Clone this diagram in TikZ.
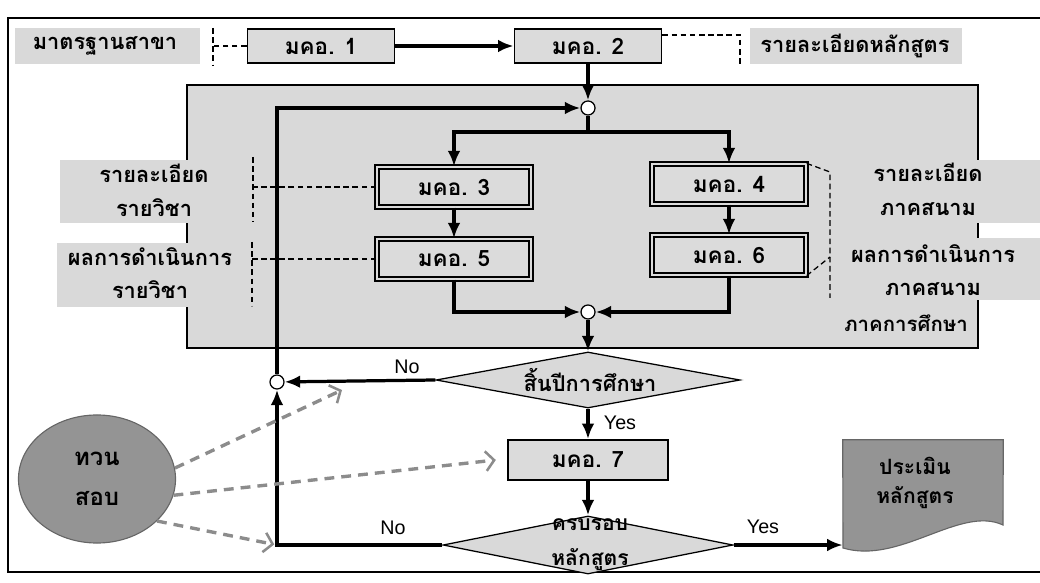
\documentclass[tikz,border=0pt]{standalone}
\usepackage{fontspec}
\setmainfont{Liberation Sans}
\newfontfamily\thai[Script=Thai]{Loma}
\usetikzlibrary{shapes.geometric,arrows.meta}
\definecolor{regfill}{gray}{0.85}
\definecolor{boxfill}{gray}{0.86}
\definecolor{darkfill}{gray}{0.58}
\begin{document}
\begin{tikzpicture}[x=0.025cm,y=-0.025cm,
  flow/.style={line width=2.3pt,-{Latex[length=11pt,width=9pt]}},
  plain/.style={line width=2.3pt},
  brk/.style={line width=0.9pt,dash pattern=on 4pt off 2.5pt},
  tvarrow/.style={black!45,line width=2.4pt,dash pattern=on 7pt off 5pt,
    -{Straight Barb[length=6pt,width=14pt,line width=1.8pt]}},
  mbox/.style={draw,line width=1.3pt,fill=boxfill,minimum width=3.675cm,minimum height=0.85cm,
    inner sep=0pt,font=\thai\bfseries\fontsize{16}{18}\selectfont},
  mboxd/.style={draw,line width=0.9pt,double=boxfill,double distance=2pt,fill=boxfill,
    minimum width=3.85cm,minimum height=1.0cm,inner sep=0pt,font=\thai\bfseries\fontsize{16}{18}\selectfont},
  thlab/.style={inner sep=0pt,align=center,font=\thai\bfseries\fontsize{15.5}{24}\selectfont},
  junc/.style={circle,draw,line width=0.9pt,fill=white,minimum size=0.35cm,inner sep=0pt},
  dec/.style={diamond,draw,line width=0.9pt,fill=regfill,inner sep=0pt},
  yn/.style={inner sep=0pt,font=\fontsize{14}{16}\selectfont}
]
\useasboundingbox (0,0) rectangle (1040,583);
% outer frame
\draw[line width=1.3pt] (1040,18) -- (8,18) -- (8,572) -- (1040,572);
% inner region
\draw[line width=1.1pt,fill=regfill] (187,85) rectangle (978,348);
% label backgrounds
\fill[regfill] (15,28) rectangle (200,64);
\fill[regfill] (750,28) rectangle (962,64);
\fill[regfill] (60,160) rectangle (253,223);
\fill[regfill] (57,243) rectangle (250,307);
\fill[regfill] (847,160) rectangle (1040,223);
\fill[regfill] (853,238) rectangle (1040,300);
% labels
\node[thlab] (lstd) at (105,46) {มาตรฐานสาขา};
\node[thlab] (lcur) at (855,46) {รายละเอียดหลักสูตร};
\node[thlab] (lcd) at (154,190) {รายละเอียด\\รายวิชา};
\node[thlab] (lcr) at (150,273) {ผลการดำเนินการ\\รายวิชา};
\node[thlab] (lfd) at (928,189) {รายละเอียด\\ภาคสนาม};
\node[thlab] (lfr) at (933,270) {ผลการดำเนินการ\\ภาคสนาม};
\node[thlab,font=\thai\bfseries\fontsize{14.5}{20}\selectfont] (lsem) at (906,323) {ภาคการศึกษา};
% boxes
\node[mbox] (m1) at (321,46) {มคอ. 1};
\node[mbox] (m2) at (588,46) {มคอ. 2};
\node[mboxd] (m3) at (454,187) {มคอ. 3};
\node[mboxd] (m5) at (454,259) {มคอ. 5};
\node[mboxd] (m4) at (729,184) {มคอ. 4};
\node[mboxd] (m6) at (729,255) {มคอ. 6};
\node[mbox,minimum width=4cm,minimum height=1cm] (m7) at (588,460) {มคอ. 7};
% junctions
\node[junc] (jT) at (588,108) {};
\node[junc] (jB) at (588,312) {};
\node[junc] (jL) at (277,382) {};
% decisions
\node[dec,minimum width=7.6cm,minimum height=1.4cm] (d1) at (588,380) {};
\node[thlab] (d1t) at (590,380) {สิ้นปีการศึกษา};
\node[dec,minimum width=7.25cm,minimum height=1.45cm] (d2) at (588,545) {};
\node[thlab,font=\thai\bfseries\fontsize{15}{25}\selectfont] (d2t) at (590,545) {ครบรอบ\\หลักสูตร};
% review ellipse
\node[ellipse,draw=black!60,line width=0.8pt,fill=darkfill,minimum width=3.925cm,minimum height=3.2cm,
  align=center,font=\thai\bfseries\fontsize{17}{28}\selectfont] (tv) at (97,479) {ทวน\\สอบ};
% document
\node[minimum width=4cm,minimum height=2.25cm,inner sep=0pt] (doc) at (923,485) {};
\fill[darkfill,draw=black!60,line width=0.8pt] (doc.north west) -- (doc.north east) -- (1003,525)
  .. controls (960,505) and (900,565) .. (843,548) -- cycle;
\node[thlab,font=\thai\bfseries\fontsize{15}{21}\selectfont] (doct) at (915,483) {ประเมิน\\หลักสูตร};
% bracket lines
\coordinate (lt1) at (213,28);
\coordinate (lt2) at (213,66);
\draw[brk] (lt1) -- (lt2);
\draw[brk] (m1.west) -- (m1.west -| lt1);
\coordinate (rt) at (740,64);
\draw[brk] ([yshift=-5pt]m2.north east) -| (rt);
\coordinate (lb1a) at (253,157);
\coordinate (lb1b) at (253,222);
\draw[brk] (lb1a) -- (lb1b);
\draw[brk] (m3.west) -- (m3.west -| lb1a);
\coordinate (lb2a) at (252,242);
\coordinate (lb2b) at (252,306);
\draw[brk] (lb2a) -- (lb2b);
\draw[brk] (m5.west) -- (m5.west -| lb2a);
\coordinate (rb1) at (830,172);
\coordinate (rb2) at (830,298);
\coordinate (rb3) at (830,257);
\draw[brk] (m4.north east) -- (rb1) -- (rb2);
\draw[brk] (m6.south east) -- (rb3);
% flows
\draw[flow] (m1.east) -- (m2.west);
\draw[flow] (m2.south) -- (jT);
\coordinate (br) at (588,132);
\draw[plain] (jT) -- (br);
\draw[flow] (br) -| (m3.north);
\draw[flow] (br) -| (m4.north);
\draw[flow] (m3.south) -- (m5.north);
\draw[flow] (m4.south) -- (m6.north);
\draw[flow] (m5.south) |- (jB);
\draw[flow] (m6.south) |- (jB);
\draw[flow] (jB) -- (d1.north);
\draw[flow] (d1.west) -- (jL);
\draw[flow] (jL) |- (jT);
\draw[flow] (d1.south) -- (m7.north);
\draw[flow] (m7.south) -- (d2.north);
\draw[flow] (d2.west) -| (jL);
\draw[flow] (d2.east) -- (d2.east -| doc.west);
\node[yn] (no1) at (407,367) {No};
\node[yn] (yes1) at (620,423) {Yes};
\node[yn] (no2) at (393,528) {No};
\node[yn] (yes2) at (763,527) {Yes};
% review arrows
\coordinate (lc) at (d2.west -| jL);
\coordinate (t1) at (342,390);
\draw[tvarrow] (tv.8) -- (t1);
\draw[tvarrow] (tv.-12) -- ([xshift=-8pt]m7.west);
\draw[tvarrow,shorten >=2pt] (tv.-35) -- (lc);
\end{tikzpicture}
\end{document}
